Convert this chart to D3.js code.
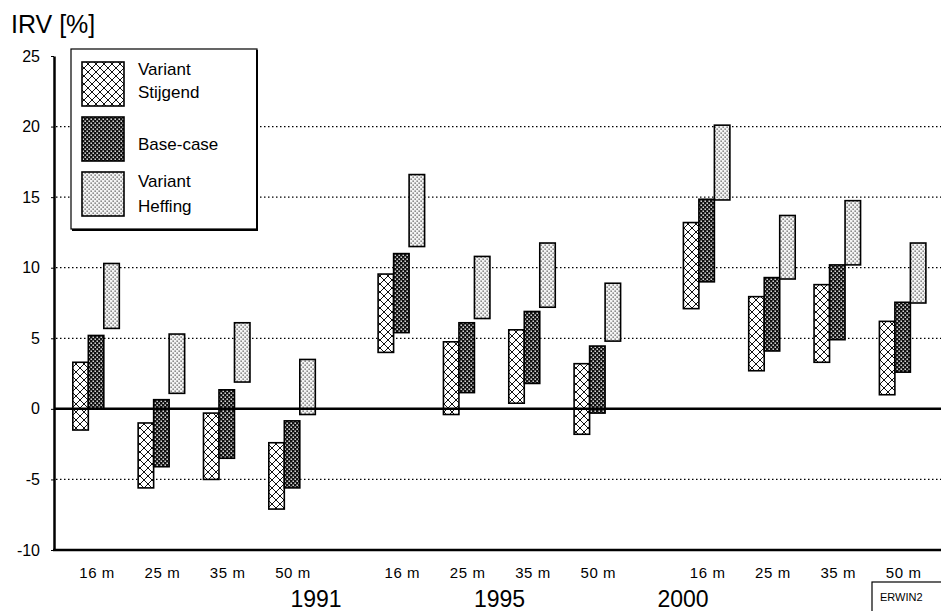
<!DOCTYPE html>
<html><head><meta charset="utf-8">
<script src="https://cdn.jsdelivr.net/npm/d3@7"></script>
<style>
body{margin:0;background:#fff;}
svg{display:block;font-family:"Liberation Sans",Arial,Helvetica,sans-serif;}
</style></head>
<body><svg id="chart" width="941" height="611"></svg>
<script>
// ---- data ----
const years = ["1991", "1995", "2000"];
const sizes = ["16 m", "25 m", "35 m", "50 m"];
const seriesNames = ["Variant Stijgend", "Base-case", "Variant Heffing"];
const yTicks = [-10, -5, 0, 5, 10, 15, 20, 25];
const gridValues = [-5, 5, 10, 15, 20];
// order: 1991 16/25/35/50, 1995 16/25/35/50, 2000 16/25/35/50
const stijgendLow  = [-1.5, -5.6, -5.0, -7.1, 4.0, -0.4, 0.4, -1.8, 7.1, 2.7, 3.3, 1.0];
const stijgendHigh = [3.3, -1.0, -0.3, -2.4, 9.55, 4.75, 5.6, 3.2, 13.2, 7.95, 8.8, 6.2];
const baseLow      = [0, -4.1, -3.5, -5.6, 5.4, 1.15, 1.8, -0.3, 9.0, 4.1, 4.9, 2.6];
const baseHigh     = [5.2, 0.65, 1.35, -0.85, 11.0, 6.1, 6.9, 4.45, 14.85, 9.3, 10.2, 7.55];
const heffingLow   = [5.7, 1.1, 1.9, -0.4, 11.5, 6.4, 7.2, 4.8, 14.8, 9.2, 10.2, 7.5];
const heffingHigh  = [10.3, 5.3, 6.1, 3.5, 16.6, 10.8, 11.75, 8.9, 20.1, 13.7, 14.75, 11.75];

const seriesLow = [stijgendLow, baseLow, heffingLow];
const seriesHigh = [stijgendHigh, baseHigh, heffingHigh];
const patIds = ["pCross", "pDark", "pLight"];

const svg = d3.select("#chart");
svg.append("rect").attr("width", 941).attr("height", 611).attr("fill", "#fff");

// ---- patterns ----
const defs = svg.append("defs");
const pc = defs.append("pattern").attr("id", "pCross").attr("patternUnits", "userSpaceOnUse").attr("width", 8).attr("height", 8);
pc.append("rect").attr("width", 8).attr("height", 8).attr("fill", "#fff");
pc.append("path").attr("d", "M0,0L8,8M8,0L0,8M-1,7L1,9M7,-1L9,1").attr("stroke", "#111").attr("stroke-width", 1);
const pd = defs.append("pattern").attr("id", "pDark").attr("patternUnits", "userSpaceOnUse").attr("width", 4).attr("height", 4);
pd.append("rect").attr("width", 4).attr("height", 4).attr("fill", "#111");
pd.append("rect").attr("x", 0.5).attr("y", 0.5).attr("width", 1.4).attr("height", 1.4).attr("fill", "#fff");
pd.append("rect").attr("x", 2.5).attr("y", 2.5).attr("width", 1.4).attr("height", 1.4).attr("fill", "#fff");
const pl = defs.append("pattern").attr("id", "pLight").attr("patternUnits", "userSpaceOnUse").attr("width", 4).attr("height", 4);
pl.append("rect").attr("width", 4).attr("height", 4).attr("fill", "#f4f4f4");
pl.append("rect").attr("x", 0.5).attr("y", 0.5).attr("width", 1.3).attr("height", 1.3).attr("fill", "#555");
pl.append("rect").attr("x", 2.5).attr("y", 2.5).attr("width", 1.3).attr("height", 1.3).attr("fill", "#555");

// ---- scales ----
const y = d3.scaleLinear().domain([-10, 25]).range([550, 56]);
const xYear = d3.scaleBand().domain(years).range([63.4, 935.3]).paddingInner(0.144).paddingOuter(0);
const xSize = d3.scaleBand().domain(sizes).range([0, xYear.bandwidth()]);
const xSeries = d3.scaleBand().domain(seriesNames).range([0, 46.5]);
const xYearLabel = d3.scalePoint().domain(years).range([316, 683]);
const slotX = (i) => xYear(years[Math.floor(i / 4)]) + xSize(sizes[i % 4]);
const barOffset = (xSize.bandwidth() - 46.5) / 2;

// ---- gridlines ----
svg.append("g").selectAll("line").data(gridValues).join("line")
  .attr("x1", 56).attr("x2", 941)
  .attr("y1", d => y(d)).attr("y2", d => y(d))
  .attr("stroke", "#000").attr("stroke-width", 1.2).attr("stroke-dasharray", "1.5,2.5");

// ---- bars ----
const barsG = svg.append("g");
seriesNames.forEach((s, si) => {
  const data = seriesLow[si].map((lo, i) => ({lo, hi: seriesHigh[si][i], i}));
  barsG.append("g").selectAll("rect").data(data).join("rect")
    .attr("x", d => slotX(d.i) + barOffset + xSeries(s))
    .attr("width", xSeries.bandwidth())
    .attr("y", d => y(d.hi))
    .attr("height", d => y(d.lo) - y(d.hi))
    .attr("fill", `url(#${patIds[si]})`)
    .attr("stroke", "#000").attr("stroke-width", 1.6);
});

// ---- zero line and bottom axis ----
svg.append("line").attr("x1", 54).attr("x2", 941).attr("y1", y(0)).attr("y2", y(0))
  .attr("stroke", "#000").attr("stroke-width", 2.5);
svg.append("line").attr("x1", 53).attr("x2", 941).attr("y1", y(-10)).attr("y2", y(-10))
  .attr("stroke", "#000").attr("stroke-width", 2.5);

// ---- y axis ----
const yAxis = d3.axisLeft(y).tickValues(yTicks).tickSize(3).tickSizeOuter(0).tickPadding(11)
  .tickFormat(d => String(d));
const gy = svg.append("g").attr("transform", "translate(54,0)").call(yAxis);
gy.select(".domain").attr("stroke", "#000").attr("stroke-width", 2.5);
gy.selectAll(".tick line").attr("stroke", "#000").attr("stroke-width", 1);
gy.selectAll(".tick text").attr("font-size", 16).attr("fill", "#000")
  .attr("font-family", "'Liberation Sans',Arial,sans-serif");

// ---- x labels ----
const xLabels = d3.range(12).map(i => ({i, t: sizes[i % 4]}));
svg.append("g").selectAll("text").data(xLabels).join("text")
  .attr("x", d => slotX(d.i) + xSize.bandwidth() / 2 + 1)
  .attr("y", 578).attr("text-anchor", "middle")
  .attr("font-size", 15).attr("letter-spacing", 0.6)
  .text(d => d.t);
svg.append("g").selectAll("text").data(years).join("text")
  .attr("x", d => xYearLabel(d)).attr("y", 607).attr("text-anchor", "middle")
  .attr("font-size", 23).text(d => d);

// ---- title ----
svg.append("text").attr("x", 11).attr("y", 33).attr("font-size", 25).text("IRV [%]");

// ---- legend ----
const lg = svg.append("g");
lg.append("rect").attr("x", 71).attr("y", 49).attr("width", 186).attr("height", 180)
  .attr("fill", "#fff").attr("stroke", "#000").attr("stroke-width", 1.2);
lg.append("path").attr("d", "M257,50V230H72").attr("fill", "none").attr("stroke", "#000").attr("stroke-width", 2);
const legRows = [
  {y: 62, lines: ["Variant", "Stijgend"], ty: [75, 98]},
  {y: 117, lines: ["Base-case"], ty: [150]},
  {y: 172, lines: ["Variant", "Heffing"], ty: [187, 212]}
];
legRows.forEach((r, i) => {
  lg.append("rect").attr("x", 82).attr("y", r.y).attr("width", 42).attr("height", 44)
    .attr("fill", `url(#${patIds[i]})`).attr("stroke", "#000").attr("stroke-width", 1.6);
  r.lines.forEach((t, j) => {
    lg.append("text").attr("x", 138).attr("y", r.ty[j]).attr("font-size", 17).text(t);
  });
});

// ---- ERWIN2 box ----
svg.append("rect").attr("x", 872).attr("y", 582).attr("width", 80).attr("height", 40)
  .attr("fill", "#fff").attr("stroke", "#000").attr("stroke-width", 1.2);
svg.append("text").attr("x", 880).attr("y", 601).attr("font-size", 11).text("ERWIN2");
</script></body></html>
